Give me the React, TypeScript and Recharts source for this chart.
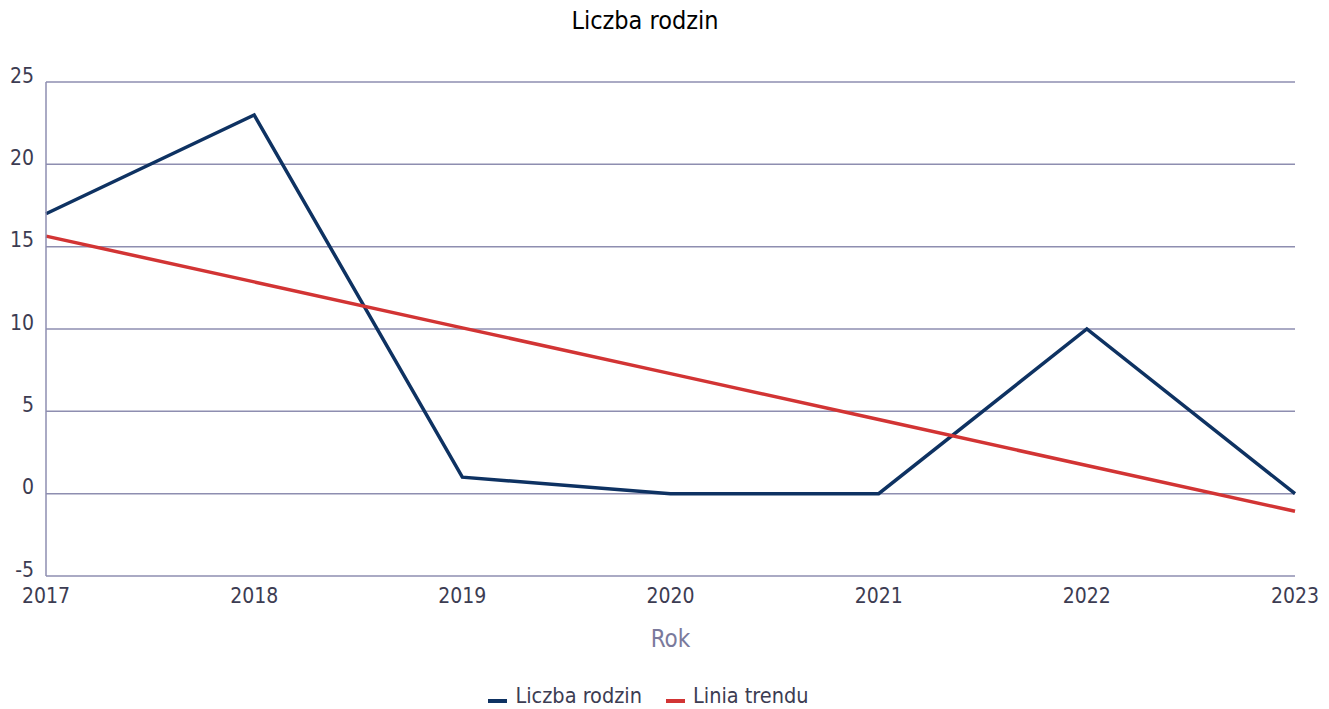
import React from 'react';
import { LineChart, Line, XAxis, YAxis, CartesianGrid, Legend } from 'recharts';

const years = ['2017', '2018', '2019', '2020', '2021', '2022', '2023'];
const familyCounts = [17, 23, 1, 0, 0, 10, 0];
const trendValues = [15.64, 12.86, 10.07, 7.29, 4.5, 1.71, -1.07];
const yTicks = [-5, 0, 5, 10, 15, 20, 25];

const FONT = '"DejaVu Sans Condensed", "DejaVu Sans", sans-serif';
const TEXT = '#3c3c52';
const GRID = '#8e8eb0';
const NAVY = '#0e3262';
const RED = '#d23434';

const chartData = years.map((year, i) => ({
  year,
  count: familyCounts[i],
  trend: trendValues[i],
}));

const YTick = (props: any) => {
  const { y, payload } = props;
  return (
    <text x={34} y={y + 0.5} textAnchor="end" fill={TEXT} fontSize={21} fontFamily={FONT}>
      {payload.value}
    </text>
  );
};

const XTick = (props: any) => {
  const { x, y, payload } = props;
  return (
    <text x={x} y={y + 18.5} textAnchor="middle" fill={TEXT} fontSize={21} fontFamily={FONT}>
      {payload.value}
    </text>
  );
};

const legendItems = [
  { label: 'Liczba rodzin', color: NAVY },
  { label: 'Linia trendu', color: RED },
];

const LegendContent = () => (
  <div style={{ display: 'flex', justifyContent: 'center', gap: 24, fontFamily: FONT, fontSize: 21.5, color: TEXT, lineHeight: 'normal' }}>
    {legendItems.map((it) => (
      <div key={it.label} style={{ display: 'flex', alignItems: 'baseline' }}>
        <span style={{ display: 'inline-block', width: 19, height: 4, background: it.color, marginRight: 8 }} />
        <span>{it.label}</span>
      </div>
    ))}
  </div>
);

export default function App() {
  return (
    <div style={{ position: 'absolute', left: 0, top: 0, width: 1329, height: 709, background: '#fff' }}>
      <div
        style={{
          position: 'absolute',
          top: 6,
          left: 0,
          width: 1290,
          textAlign: 'center',
          fontFamily: FONT,
          fontSize: 25,
          lineHeight: 'normal',
          color: '#000',
        }}
      >
        Liczba rodzin
      </div>
      <LineChart width={1329} height={709} data={chartData} margin={{ top: 82, right: 34, left: 0, bottom: 103 }}>
        <CartesianGrid vertical={false} stroke={GRID} strokeWidth={1.5} />
        <XAxis
          dataKey="year"
          height={30}
          axisLine={false}
          tickLine={false}
          tick={<XTick />}
          interval={0}
          label={{ value: 'Rok', position: 'bottom', offset: 24, fill: '#7a7a9c', fontSize: 24, fontFamily: FONT }}
        />
        <YAxis
          width={46}
          domain={[-5, 25]}
          ticks={yTicks}
          axisLine={{ stroke: GRID, strokeWidth: 1.5 }}
          tickLine={false}
          tick={<YTick />}
          interval={0}
        />
        <Line dataKey="count" name="Liczba rodzin" stroke={NAVY} strokeWidth={3.5} dot={false} isAnimationActive={false} />
        <Line dataKey="trend" name="Linia trendu" stroke={RED} strokeWidth={3.5} dot={false} isAnimationActive={false} />
        <Legend
          layout="horizontal"
          verticalAlign="middle"
          align="center"
          content={<LegendContent />}
          wrapperStyle={{ top: 683, left: 0, width: 1297 }}
        />
      </LineChart>
    </div>
  );
}
